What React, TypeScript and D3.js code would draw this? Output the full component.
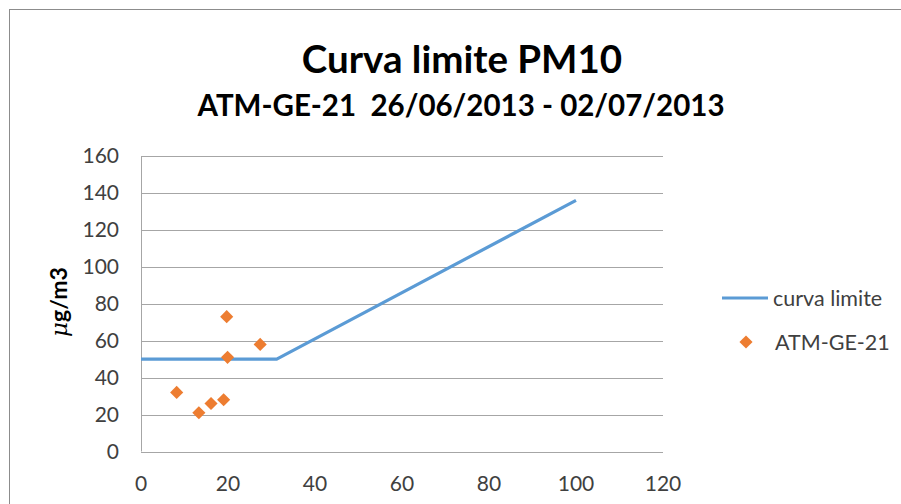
import React from "react";
import * as d3 from "d3";

// curva limite: plateau at 50 then rising
const limitX = [0, 31.2, 100];
const limitY = [50, 50, 136];

// ATM-GE-21 measurements
const stationX = [8.2, 13.3, 16.1, 19.0, 19.7, 19.9, 27.4];
const stationY = [32, 21, 26, 28, 73, 51, 58];

const xTicks = [0, 20, 40, 60, 80, 100, 120];
const yTicks = [0, 20, 40, 60, 80, 100, 120, 140, 160];

const W = 901;
const H = 504;
const FONT = "Lato, 'Open Sans', sans-serif";

export default function App() {
    const x = d3.scaleLinear().domain([0, 120]).range([141, 663]);
    const y = d3.scaleLinear().domain([0, 160]).range([451.5, 156]);

    const limitPts = limitX.map((v, i) => [x(v), y(limitY[i])] as [number, number]);
    const linePath = d3.line()(limitPts) || "";

    const diamond = d3.symbol().type(d3.symbolDiamond2).size(110)() || "";

    return (
        <svg width={W} height={H} style={{ position: "absolute", left: 0, top: 0, background: "white" }}>
            {/* chart frame */}
            <rect x={9.5} y={9.5} width={W} height={H} fill="white" stroke="#8c8c8c" strokeWidth={1} />

            <text x={462} y={73} textAnchor="middle" fontFamily={FONT} fontWeight="bold" fontSize={38.5} fill="#000">
                Curva limite PM10
            </text>
            <text x={461} y={116} textAnchor="middle" fontFamily={FONT} fontWeight="bold" fontSize={29.5} fill="#000"
                style={{ whiteSpace: "pre" }}>
                {"ATM-GE-21  26/06/2013 - 02/07/2013"}
            </text>

            {/* gridlines */}
            {yTicks.map(t => (
                <line key={"g" + t} x1={x(0)} x2={x(120)} y1={Math.round(y(t)) + 0.5} y2={Math.round(y(t)) + 0.5}
                    stroke="#a6a6a6" strokeWidth={1} />
            ))}
            <line x1={x(0) + 0.5} x2={x(0) + 0.5} y1={y(160)} y2={y(0)} stroke="#a6a6a6" strokeWidth={1} />

            {/* y tick labels */}
            {yTicks.map(t => (
                <text key={"y" + t} x={119} y={y(t)} dy="0.35em" textAnchor="end" fontFamily={FONT} fontSize={21} fill="#404040">
                    {t}
                </text>
            ))}
            {/* x tick labels */}
            {xTicks.map(t => (
                <text key={"x" + t} x={x(t)} y={491} textAnchor="middle" fontFamily={FONT} fontSize={21} fill="#404040">
                    {t}
                </text>
            ))}

            {/* y axis title */}
            <text transform="translate(67,302) rotate(-90)" textAnchor="middle" fontFamily={FONT} fontWeight="bold" fontSize={23} fill="#000">
                <tspan fontStyle="italic" fontFamily="'DejaVu Serif', serif" fontWeight="normal">μ</tspan>g/m3
            </text>

            {/* curva limite */}
            <path d={linePath} fill="none" stroke="#5b9bd5" strokeWidth={3.2} strokeLinejoin="round" />

            {/* scatter */}
            {stationX.map((v, i) => (
                <path key={"p" + i} d={diamond} transform={`translate(${x(v)},${y(stationY[i])})`} fill="#ed7d31" />
            ))}

            {/* legend */}
            <line x1={722} x2={768} y1={298} y2={298} stroke="#5b9bd5" strokeWidth={3.2} />
            <text x={773} y={298} dy="0.35em" fontFamily={FONT} fontSize={21.5} fill="#404040">curva limite</text>
            <path d={diamond} transform="translate(746,342)" fill="#ed7d31" />
            <text x={775} y={342} dy="0.35em" fontFamily={FONT} fontSize={21.5} fill="#404040">ATM-GE-21</text>
        </svg>
    );
}
